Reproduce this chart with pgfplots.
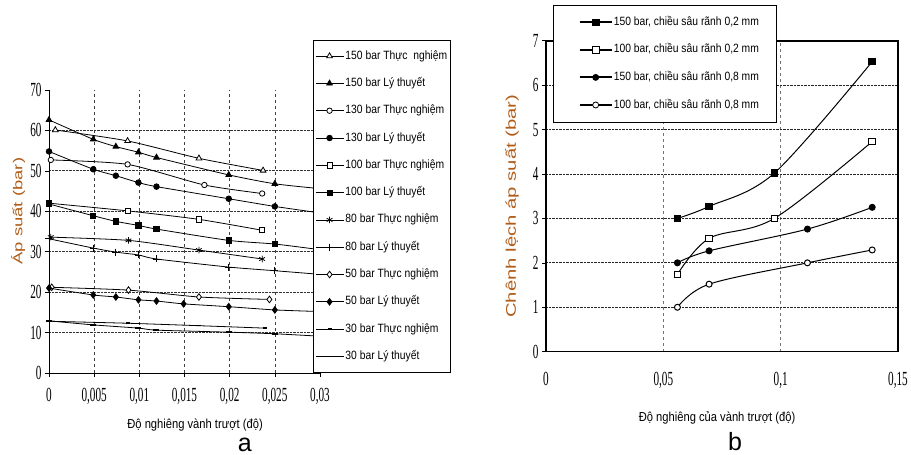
\documentclass[border=0pt]{standalone}
\usepackage{fontspec}
\setmainfont{Liberation Sans}
\newfontfamily\tms[FakeStretch=0.56]{Liberation Serif}
\newfontfamily\nar[FakeStretch=0.86]{Liberation Sans}
\newfontfamily\widl[FakeStretch=1.42]{Liberation Sans}
\newfontfamily\widr[FakeStretch=1.45]{Liberation Sans}
\usepackage{pgfplots}
\pgfplotsset{compat=1.18}
\definecolor{lab}{RGB}{176,92,24}

\pgfplotsset{
  base/.style={
    scale only axis, anchor=origin, clip mode=individual,
    scaled x ticks=false, scaled y ticks=false,
    /pgf/number format/assume math mode=true,
    /pgf/number format/use comma,
    /pgf/number format/fixed,
    /pgf/number format/precision=3,
    ticklabel style={font=\tms\fontsize{20}{20}\selectfont},
    tick style={black, line width=0.6pt},
    legend cell align=left,
  },
  thinleg/.style={legend image code/.code={
    \draw[line width=0.8pt, mark indices={2}]
      plot coordinates {(0pt,0pt) (14pt,0pt) (28pt,0pt)};}},
  thickleg/.style={legend image code/.code={
    \path (-10pt,0pt);
    \draw[line width=2.2pt] (0pt,0pt) -- (32pt,0pt);
    \draw[line width=0.8pt, mark indices={2}]
      plot coordinates {(0pt,0pt) (16pt,0pt) (32pt,0pt)};}},
  sa/.style={black, line width=0.8pt, smooth, tension=0.4},
  sb/.style={black, line width=1pt, smooth, tension=0.55},
}

\begin{document}
\begin{tikzpicture}
\useasboundingbox (0,0) rectangle (911pt,455pt);

% ---------------- panel a ----------------
\begin{axis}[base, thinleg,
  at={(49pt,82pt)}, width=271pt, height=283pt,
  xmin=0, xmax=0.03, ymin=0, ymax=70,
  axis x line*=bottom, axis y line*=left,
  axis line style={line width=0.8pt},
  xtick={0,0.005,0.01,0.015,0.02,0.025,0.03},
  ytick={10,20,30,40,50,60},
  extra y ticks={0,70}, extra y tick style={grid=none},
  tick align=outside, major tick length=4pt,
  xticklabel style={yshift=-8pt},
  grid=major,
  x grid style={dashed, black!75, line width=0.6pt},
  y grid style={densely dotted, black!80, line width=0.9pt},
  xlabel={\nar\fontsize{13}{13}\selectfont Độ nghiêng vành trượt (độ)},
  xlabel style={at={(axis description cs:0.539,-0.184)}, anchor=center},
  ylabel={\widl\fontsize{13}{13}\selectfont\color{lab}Áp suất (bar)},
  ylabel style={at={(axis description cs:-0.114,0.572)}, anchor=center},
  legend style={at={(axis description cs:0.974,1.177)}, anchor=north west,
    draw=black, fill=white, inner xsep=2pt, inner ysep=9pt, row sep=13.3pt,
    font=\nar\fontsize{12}{12}\selectfont,
    nodes={inner xsep=1.5pt, inner ysep=1pt, text height=9pt, text depth=3pt}},
]
\addplot[sa, mark=triangle*, mark size=3.3pt, mark options={fill=white, solid}] coordinates {
  (0.0007,60.1) (0.0087,57.4) (0.0166,53.1) (0.0237,50.1)};
\addlegendentry{150 bar Thực\hspace{3pt} nghiệm}
\addplot[sa, mark=triangle*, mark size=3.3pt, mark indices={1,2,3,4,5,6,7}] coordinates {
  (0,62.6) (0.0049,57.8) (0.0074,56.0) (0.0099,54.6) (0.0119,53.3) (0.0199,49.0) (0.025,46.8) (0.03,45.6)};
\addlegendentry{150 bar Lý thuyết}
\addplot[sa, mark=*, mark size=2.7pt, mark options={fill=white}] coordinates {
  (0.0002,52.7) (0.0087,51.6) (0.0172,46.5) (0.0236,44.4)};
\addlegendentry{130 bar Thực nghiệm}
\addplot[sa, mark=*, mark size=2.8pt, mark indices={1,2,3,4,5,6,7}] coordinates {
  (0,54.8) (0.0049,50.4) (0.0074,48.8) (0.0099,47.1) (0.0119,46.1) (0.0199,43.1) (0.025,41.2) (0.03,39.6)};
\addlegendentry{130 bar Lý thuyết}
\addplot[sa, mark=square*, mark size=2.6pt, mark options={fill=white}] coordinates {
  (0,42.0) (0.0087,40.1) (0.0166,38.0) (0.0236,35.3)};
\addlegendentry{100 bar Thực nghiệm}
\addplot[sa, mark=square*, mark size=2.6pt, mark indices={1,2,3,4,5,6,7}] coordinates {
  (0,41.8) (0.0049,38.9) (0.0074,37.5) (0.0099,36.5) (0.0119,35.6) (0.0199,32.8) (0.025,31.9) (0.03,30.5)};
\addlegendentry{100 bar Lý thuyết}
\addplot[sa, mark=asterisk, mark size=3.3pt] coordinates {
  (0.0002,33.6) (0.0088,32.8) (0.0166,30.4) (0.0236,28.2)};
\addlegendentry{80 bar Thực nghiệm}
\addplot[sa, mark=+, mark size=3.5pt, mark indices={1,2,3,4,5,6,7}] coordinates {
  (0,33.2) (0.0049,30.9) (0.0074,29.9) (0.0099,29.2) (0.0119,28.2) (0.0199,26.2) (0.025,25.3) (0.03,24.4)};
\addlegendentry{80 bar Lý thuyết}
\addplot[sa, mark=diamond*, mark size=3.3pt, mark options={fill=white}] coordinates {
  (0.0003,21.2) (0.0088,20.5) (0.0166,18.8) (0.0244,18.2)};
\addlegendentry{50 bar Thực nghiệm}
\addplot[sa, mark=diamond*, mark size=3.3pt, mark indices={1,2,3,4,5,6,7,8}] coordinates {
  (0,21.0) (0.0049,19.3) (0.0074,18.8) (0.0099,18.1) (0.0119,17.8) (0.0149,17.1) (0.0199,16.4) (0.025,15.6) (0.03,15.2)};
\addlegendentry{50 bar Lý thuyết}
\addplot[sa, mark=-, mark size=2pt, mark options={line width=1.6pt}] coordinates {
  (0,12.8) (0.0088,12.3) (0.0166,11.7) (0.0239,11.1)};
\addlegendentry{30 bar Thực nghiệm}
\addplot[sa, mark=-, mark size=3pt, mark options={line width=1.8pt}, mark indices={1,2,3,4,5,6}] coordinates {
  (0,12.9) (0.0049,11.9) (0.0099,11.1) (0.0119,10.6) (0.0199,10.1) (0.025,9.7) (0.03,9.1)};
\addlegendentry{30 bar Lý thuyết}
\node[font=\fontsize{25}{25}\selectfont, inner sep=0pt] at (axis description cs:0.723,-0.254) {a};
\end{axis}

% ---------------- panel b ----------------
\begin{axis}[base, thickleg,
  at={(546pt,103.3pt)}, width=352pt, height=311pt,
  xmin=0, xmax=0.15, ymin=0, ymax=7,
  xtick={0,0.05,0.1,0.15}, ytick={0,1,...,7},
  axis line style={line width=1.6pt},
  xtick style={draw=none}, ytick pos=left,
  tick align=outside, major tick length=4pt,
  xticklabel style={yshift=-13pt},
  grid=major,
  x grid style={dashed, black!55, line width=0.7pt},
  y grid style={densely dotted, black!85, line width=0.9pt},
  xlabel={\nar\fontsize{13}{13}\selectfont Độ nghiêng của vành trượt (độ)},
  xlabel style={at={(axis description cs:0.486,-0.213)}, anchor=center},
  ylabel={\widr\fontsize{14}{14}\selectfont\color{lab}Chênh lệch áp suất (bar)},
  ylabel style={at={(axis description cs:-0.0966,0.468)}, anchor=center},
  legend style={at={(axis description cs:0.0199,1.1148)}, anchor=north west,
    draw=black, fill=white, inner xsep=16pt, inner ysep=10pt, row sep=13.6pt,
    font=\nar\fontsize{12}{12}\selectfont,
    nodes={inner xsep=1pt, inner ysep=1pt, text height=9pt, text depth=3pt}},
]
\addplot[sb, mark=square*, mark size=3.2pt] coordinates {
  (0.056,3.0) (0.0695,3.27) (0.0973,4.02) (0.139,6.53)};
\addlegendentry{150 bar, chiều sâu rãnh 0,2 mm}
\addplot[sb, mark=square*, mark size=3.2pt, mark options={fill=white}] coordinates {
  (0.056,1.74) (0.0695,2.55) (0.0973,3.0) (0.139,4.73)};
\addlegendentry{100 bar, chiều sâu rãnh 0,2 mm}
\addplot[sb, mark=*, mark size=3pt] coordinates {
  (0.056,2.0) (0.0695,2.27) (0.1114,2.76) (0.139,3.25)};
\addlegendentry{150 bar, chiều sâu rãnh 0,8 mm}
\addplot[sb, mark=*, mark size=3pt, mark options={fill=white}] coordinates {
  (0.056,1.0) (0.0695,1.52) (0.1114,2.0) (0.139,2.29)};
\addlegendentry{100 bar, chiều sâu rãnh 0,8 mm}
\node[font=\fontsize{25}{25}\selectfont, inner sep=0pt] at (axis description cs:0.537,-0.29) {b};
\end{axis}
\end{tikzpicture}
\end{document}
